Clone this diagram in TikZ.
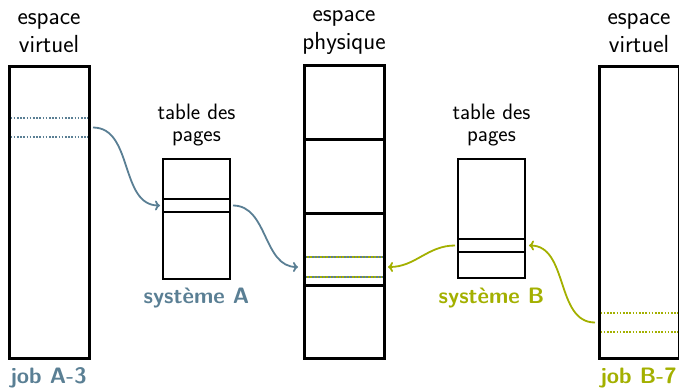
\documentclass[tikz,border=0pt]{standalone}
\usepackage{fontspec}
\usetikzlibrary{arrows.meta}
\definecolor{sysA}{HTML}{5A7F94}
\definecolor{sysB}{HTML}{A3B000}
\tikzset{
  x=1pt, y=-1pt,
  every node/.style={font=\sffamily},
  heading/.style={align=center, font=\sffamily\fontsize{24.7}{28}\selectfont},
  tabhead/.style={align=center, font=\sffamily\fontsize{22.3}{22.4}\selectfont},
  caption/.style={font=\sffamily\bfseries\fontsize{22.3}{24}\selectfont},
  space/.style={draw, line width=3pt, minimum width=80pt, inner sep=0pt, outer sep=0pt},
  ptable/.style={draw, line width=1.3pt, minimum width=67pt, inner sep=0pt, outer sep=0pt},
  segment/.style={minimum width=80pt, inner sep=0pt, outer sep=0pt},
  divider/.style={line width=3pt},
  dots/.style={line width=1.6pt, dash pattern=on 1.6pt off 1.6pt},
  link/.style={line width=1.8pt, -{To[length=5pt,width=10pt]}},
}
\begin{document}
\begin{tikzpicture}
\useasboundingbox (0,0) rectangle (679,391);
\clip (0,0) rectangle (679,391);

% address spaces
\node[space, minimum height=292pt] (virtA) at (49,212) {};
\node[space, minimum height=293pt] (phys) at (344,211.5) {};
\node[space, minimum height=292pt] (virtB) at (639,212) {};

% frame boundaries of the physical memory
\foreach \yy in {139,213,285}
  \draw[divider] (phys.west |- 0,\yy) -- (phys.east |- 0,\yy);

% page tables with their selected entry
\node[ptable, minimum height=120pt] (tabA) at (196.5,219) {};
\node[ptable, minimum height=13pt] (rowA) at (196.5,205.5) {};
\node[ptable, minimum height=119pt] (tabB) at (491.5,218.5) {};
\node[ptable, minimum height=13pt] (rowB) at (491.5,245.5) {};

% pages referenced by the two jobs
\node[segment, minimum height=19pt] (segA) at (49,127.5) {};
\node[segment, minimum height=20pt] (segP) at (344,267) {};
\node[segment, minimum height=19pt] (segB) at (639,322.5) {};

\draw[dots, sysA] ([xshift=1.5pt]segA.north west) -- ([xshift=-1.5pt]segA.north east);
\draw[dots, sysA] ([xshift=1.5pt]segA.south west) -- ([xshift=-1.5pt]segA.south east);
\draw[dots, sysB] ([xshift=1.5pt]segB.north west) -- ([xshift=-1.5pt]segB.north east);
\draw[dots, sysB] ([xshift=1.5pt]segB.south west) -- ([xshift=-1.5pt]segB.south east);
\foreach \a/\b in {north west/north east, south west/south east}{
  \draw[dots, sysA] ([xshift=1.5pt]segP.\a) -- ([xshift=-1.5pt]segP.\b);
  \draw[dots, sysB, dash phase=1.6pt] ([xshift=1.5pt]segP.\a) -- ([xshift=-1.5pt]segP.\b);
}

% translations
\draw[link, sysA] ([xshift=4pt]segA.east) to[out=0, in=180] ([xshift=-3pt]rowA.west);
\draw[link, sysA] ([xshift=3pt]rowA.east) to[out=0, in=180] ([xshift=-6pt]segP.west);
\draw[link, sysB] ([xshift=-3pt]rowB.west) to[out=180, in=0] ([xshift=4pt]segP.east);
\draw[link, sysB] ([xshift=-4pt]segB.west) to[out=180, in=0] ([xshift=4pt]rowB.east);

% labels
\node[heading] (hA) at (49,33) {espace\\virtuel};
\node[heading] (hP) at (344,33) {espace\\physique};
\node[heading] (hB) at (639,33) {espace\\virtuel};
\node[tabhead] (tA) at (196.5,125) {table des\\pages};
\node[tabhead] (tB) at (491.5,125) {table des\\pages};
\node[caption, sysA] (cA) at (tabA.south |- 0,298) {système A};
\node[caption, sysB] (cB) at (tabB.south |- 0,298) {système B};
\node[caption, sysA, anchor=west] (jA) at (7,378) {job A-3};
\node[caption, sysB, anchor=west] (jB) at (597,378) {job B-7};
\end{tikzpicture}
\end{document}
